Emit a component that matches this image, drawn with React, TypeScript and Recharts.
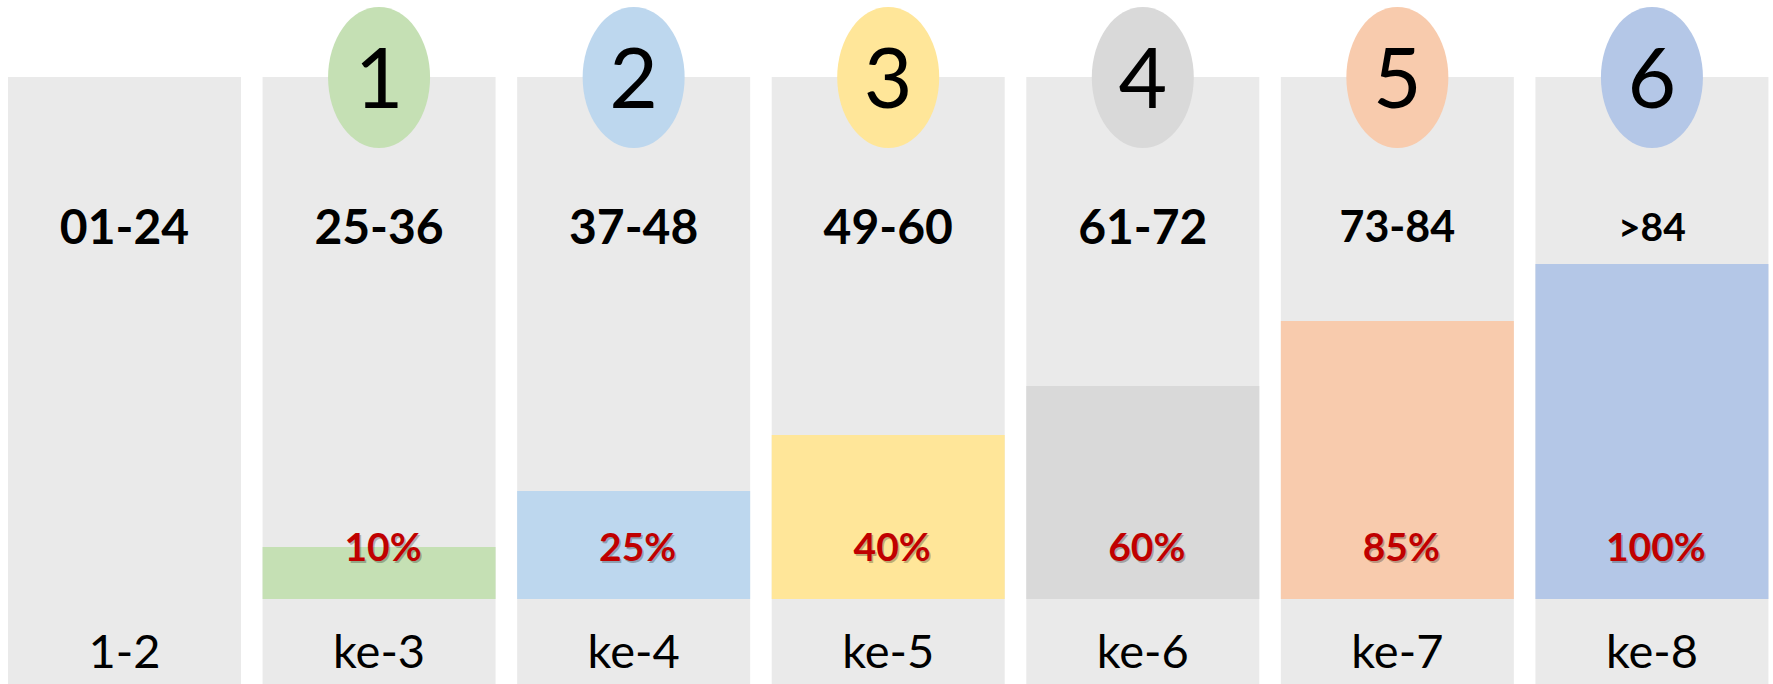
import React from 'react';
import { BarChart, Bar, XAxis, YAxis, Cell, LabelList } from 'recharts';

// ---- data ----
const categories = ['01-24', '25-36', '37-48', '49-60', '61-72', '73-84', '>84'];
const ranks = ['', '1', '2', '3', '4', '5', '6'];
const stages = ['1-2', 'ke-3', 'ke-4', 'ke-5', 'ke-6', 'ke-7', 'ke-8'];
const percentLabels = ['', '10%', '25%', '40%', '60%', '85%', '100%'];
const barHeights = [0, 52, 108, 164, 213, 278, 335];

// ---- styles ----
const barColors = ['#EAEAEA', '#C5E0B4', '#BDD7EE', '#FFE699', '#D9D9D9', '#F8CBAD', '#B4C7E7'];
const topFontSizes = [48, 48, 48, 48, 48, 43, 39];
const COLUMN_BG = '#EAEAEA';
const RED = '#C00000';
const FONT = "Lato, 'Open Sans', 'DejaVu Sans', sans-serif";
const Y_MIN = -85;
const Y_MAX = 522;

const data = categories.map((cat, i) => ({
  cat,
  column: [Y_MIN, Y_MAX],
  value: barHeights[i],
  pct: percentLabels[i],
}));

const ColumnDecor = (props: any) => {
  const { x, y, width, height, value } = props;
  const index = categories.indexOf(String(value));
  if (index < 0) return null;
  const cx = Number(x) + Number(width) / 2;
  const top = Number(y);
  const bottom = Number(y) + Number(height);
  const fs = topFontSizes[index];
  return (
    <g>
      {ranks[index] ? (
        <g>
          <ellipse cx={cx} cy={top + 0.5} rx={51} ry={70.5} fill={barColors[index]} />
          <text x={cx} y={top + 31} textAnchor="middle" fontFamily={FONT} fontSize={84} fill="#000">
            {ranks[index]}
          </text>
        </g>
      ) : null}
      <text
        x={cx}
        y={top + 150 + fs * 0.358}
        textAnchor="middle"
        fontFamily={FONT}
        fontWeight={700}
        fontSize={fs}
        fill="#000"
      >
        {categories[index]}
      </text>
      <text x={cx} y={bottom - 16} textAnchor="middle" fontFamily={FONT} fontSize={47} fill="#000">
        {stages[index]}
      </text>
    </g>
  );
};

const PercentLabel = (props: any) => {
  const { x, y, width, height, value } = props;
  const label = value ? String(value) : '';
  if (!label) return null;
  const cx = Number(x) + Number(width) / 2 + 4;
  const base = Number(y) + Number(height) - 38;
  return (
    <g>
      <text x={cx + 1.5} y={base + 1.5} textAnchor="middle" fontFamily={FONT} fontWeight={700} fontSize={39} fill="#000" fillOpacity={0.25}>
        {label}
      </text>
      <text x={cx} y={base} textAnchor="middle" fontFamily={FONT} fontWeight={700} fontSize={39} fill={RED}>
        {label}
      </text>
    </g>
  );
};

export default function App() {
  return (
    <div style={{ position: 'absolute', left: 0, top: 0, width: 1773, height: 684, overflow: 'hidden', background: '#fff' }}>
      <div style={{ position: 'relative', left: -3 }}>
        <BarChart width={1782} height={684} data={data} margin={{ top: 77, right: 0, bottom: 0, left: 0 }}>
          <XAxis xAxisId="bg" dataKey="cat" hide />
          <XAxis xAxisId="fg" dataKey="cat" hide />
          <YAxis hide domain={[Y_MIN, Y_MAX]} allowDataOverflow />
          <Bar xAxisId="bg" dataKey="column" barSize={233} fill={COLUMN_BG} isAnimationActive={false}>
            <LabelList dataKey="cat" content={ColumnDecor} />
          </Bar>
          <Bar xAxisId="fg" dataKey="value" barSize={233} isAnimationActive={false}>
            {data.map((d, i) => (
              <Cell key={d.cat} fill={barColors[i]} />
            ))}
            <LabelList dataKey="pct" content={PercentLabel} />
          </Bar>
        </BarChart>
      </div>
    </div>
  );
}
